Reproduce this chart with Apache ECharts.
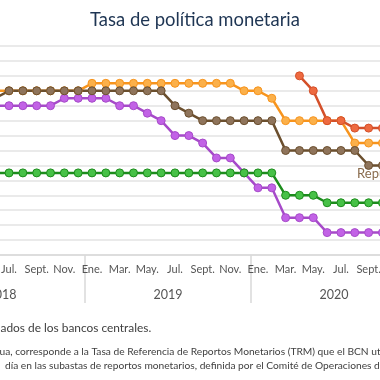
<!DOCTYPE html>
<html><head><meta charset="utf-8">
<script src="https://cdn.jsdelivr.net/npm/echarts@6/dist/echarts.min.js"></script>
<style>html,body{margin:0;padding:0;background:#fff}#c{width:380px;height:380px}</style>
</head><body><div id="c"></div>
<script>
// ---- data ----
const categories = ['2018-06','2018-07','2018-08','2018-09','2018-10','2018-11','2018-12',
  '2019-01','2019-02','2019-03','2019-04','2019-05','2019-06','2019-07','2019-08','2019-09','2019-10','2019-11','2019-12',
  '2020-01','2020-02','2020-03','2020-04','2020-05','2020-06','2020-07','2020-08','2020-09','2020-10'];
const monthLabels = ['Ene.','Feb.','Mar.','Abr.','May.','Jun.','Jul.','Ago.','Sept.','Oct.','Nov.','Dic.'];
const years = ['2018','2019','2020'];
const honduras = [5.5,5.5,5.5,5.5,5.5,5.5,5.5, 5.75,5.75,5.75,5.75,5.75,5.75,5.75,5.75,5.75,5.75,5.75,5.5, 5.5,5.25,4.5,4.5,4.5,4.5,4.5,3.75,3.75,3.75];
const costaRica = [5.0,5.0,5.0,5.0,5.0,5.25,5.25, 5.25,5.25,5.0,5.0,4.75,4.5,4.0,4.0,3.75,3.25,3.25,2.75, 2.25,2.25,1.25,1.25,1.25,0.75,0.75,0.75,0.75,0.75];
const repDominicana = [5.25,5.5,5.5,5.5,5.5,5.5,5.5, 5.5,5.5,5.5,5.5,5.5,5.5,5.0,4.75,4.5,4.5,4.5,4.5, 4.5,4.5,3.5,3.5,3.5,3.5,3.5,3.5,3.0,3.0];
const guatemala = [2.75,2.75,2.75,2.75,2.75,2.75,2.75, 2.75,2.75,2.75,2.75,2.75,2.75,2.75,2.75,2.75,2.75,2.75,2.75, 2.75,2.75,2.0,2.0,2.0,1.75,1.75,1.75,1.75,1.75];
const nicaragua = [null,null,null,null,null,null,null, null,null,null,null,null,null,null,null,null,null,null,null, null,null,null,6.0,5.5,4.5,4.5,4.25,4.25,4.25];
const titleText = 'Tasa de política monetaria';
const sourceText = 'Fuente: SECMCA con base en datos publicados de los bancos centrales.';
const note1Text = 'Nota: en el caso de Nicaragua, corresponde a la Tasa de Referencia de Reportos Monetarios (TRM) que el BCN utiliza como referencia para las operaciones a un';
const note2Text = 'día en las subastas de reportos monetarios, definida por el Comité de Operaciones de Mercado Abierto.';
const drLabel = 'República Dominicana';

// ---- layout helpers ----
const FONT = 'Lato';
const mctx = document.createElement('canvas').getContext('2d');
function tw(t, size){ mctx.font = size + 'px ' + FONT; return mctx.measureText(t).width; }
function fit(t, w){ return 10 * w / tw(t, 10); }

const W = 380;
const catW = 13.83;
const firstCenter = -4.8;
const gridLeft = firstCenter - catW / 2;
const gridRight = W - (gridLeft + categories.length * catW);
const yearLeft = gridLeft - 5 * catW;   // Jan 2018 is 5 months before the first category
const yearRight = W - (yearLeft + years.length * 12 * catW);

const titleSize = fit(titleText, 210);
const srcSize = fit('ados de los bancos centrales.', 151);
const noteSize = fit('ua, corresponde a la Tasa de Referencia de ', 191.5);
const srcX = -tw('Fuente: SECMCA con base en datos public', srcSize) + 0.5;
const n1X = -tw('Nota: en el caso de Nicarag', noteSize) - 0.5;
const n2X = 5;

function line(name, data, lineColor, dotColor){
  return {
    type:'line', name, data, xAxisIndex:0, yAxisIndex:0,
    symbol:'circle', symbolSize:8, showSymbol:true, showAllSymbol:true,
    lineStyle:{color:lineColor, width:2.5},
    itemStyle:{color:dotColor, borderColor:lineColor, borderWidth:1},
    emphasis:{disabled:true}, silent:true
  };
}
const drData = repDominicana.map((v,i)=> i === categories.indexOf('2020-09') ? {
  value:v, label:{show:true, formatter:drLabel, position:[-7,6], align:'left', verticalAlign:'top',
  color:'#8a6c4e', fontSize:13, fontFamily:FONT}} : v);

const option = {
  animation:false,
  backgroundColor:'#ffffff',
  textStyle:{fontFamily:FONT},
  grid:[
    {left:gridLeft, right:gridRight, top:46, bottom:125, containLabel:false, outerBoundsMode:'none'},
    {left:yearLeft, right:yearRight, top:46, bottom:125, containLabel:false, outerBoundsMode:'none'}
  ],
  xAxis:[
    {type:'category', gridIndex:0, data:categories, boundaryGap:true,
     axisLine:{lineStyle:{color:'#d9d9d9', width:1.5}}, axisTick:{show:false},
     axisLabel:{interval:(i,v)=> parseInt(v.slice(5),10) % 2 === 1,
       formatter:(v)=> monthLabels[parseInt(v.slice(5),10)-1],
       color:'#555', fontSize:11, margin:9, fontFamily:FONT},
     splitLine:{show:false}},
    {type:'category', gridIndex:1, data:years, boundaryGap:true,
     axisLine:{show:false}, axisTick:{show:true, interval:0, length:48, lineStyle:{color:'#d9d9d9', width:1.5}},
     axisLabel:{color:'#555', fontSize:12.5, margin:33, fontFamily:FONT}, splitLine:{show:false}}
  ],
  yAxis:[
    {type:'value', gridIndex:0, min:0, max:7, interval:0.5,
     axisLabel:{show:false}, axisLine:{show:false}, axisTick:{show:false},
     splitLine:{lineStyle:{color:'#e3e3e3', width:1.5}}},
    {type:'value', gridIndex:1, show:false}
  ],
  series:[
    line('Honduras', honduras, '#f7941d', '#fbb04a'),
    line('Costa Rica', costaRica, '#a64ac9', '#c262e6'),
    line('República Dominicana', drData, '#6b4f2e', '#8f745b'),
    line('Guatemala', guatemala, '#1c8c1c', '#47c147'),
    line('Nicaragua', nicaragua, '#d4502a', '#ee6a40')
  ],
  graphic:[
    {type:'text', x:195, y:20.5, silent:true,
     style:{text:titleText, fontSize:titleSize, fontFamily:FONT, fill:'#1e3553', align:'center', verticalAlign:'middle', textAlign:'center', textVerticalAlign:'middle'}},
    {type:'text', x:srcX, y:328, silent:true,
     style:{text:sourceText, fontSize:srcSize, fontFamily:FONT, fill:'#404040', align:'left', verticalAlign:'middle', textAlign:'left', textVerticalAlign:'middle'}},
    {type:'text', x:n1X, y:352, silent:true,
     style:{text:note1Text, fontSize:noteSize, fontFamily:FONT, fill:'#404040', align:'left', verticalAlign:'middle', textAlign:'left', textVerticalAlign:'middle'}},
    {type:'text', x:n2X, y:366, silent:true,
     style:{text:note2Text, fontSize:noteSize, fontFamily:FONT, fill:'#404040', align:'left', verticalAlign:'middle', textAlign:'left', textVerticalAlign:'middle'}}
  ]
};
const chart = echarts.init(document.getElementById('c'), null, {renderer:'canvas', width:380, height:380});
chart.setOption(option);
</script>
</body></html>
